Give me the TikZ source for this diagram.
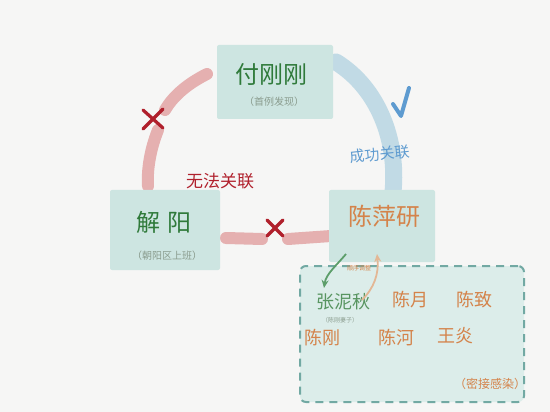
\documentclass[tikz,border=0pt]{standalone}
\usepackage{fontspec}
\setmainfont{Noto Sans CJK SC}
\usetikzlibrary{arrows.meta,calc}
\definecolor{bg}{HTML}{F6F6F5}
\definecolor{boxfill}{HTML}{CDE5E1}
\definecolor{groupfill}{HTML}{DCEDEA}
\definecolor{dashc}{HTML}{72A9A3}
\definecolor{namegreen}{HTML}{2F7A3A}
\definecolor{subgray}{HTML}{8A9C8E}
\definecolor{nameorange}{HTML}{D4834A}
\definecolor{pinkstroke}{HTML}{E5B0B0}
\definecolor{bluestroke}{HTML}{BCD8E4}
\definecolor{xred}{HTML}{B0202C}
\definecolor{checkblue}{HTML}{5E9BD0}
\definecolor{arrgreen}{HTML}{5C9E6A}
\definecolor{arrorange}{HTML}{E3B795}
\tikzset{
  person/.style={fill=boxfill, draw=none, rounded corners=2pt, inner sep=0pt},
  bigname/.style={font=\fontsize{24}{28}\selectfont},
  subtxt/.style={font=\fontsize{10}{12}\selectfont, text=subgray},
  member/.style={font=\fontsize{18}{21}\selectfont, text=nameorange},
  pinkline/.style={draw=pinkstroke, line width=12pt, line cap=round},
  blueline/.style={draw=bluestroke, line width=17pt, line cap=round, opacity=0.9},
  xmark/.style={draw=xred, line width=3.2pt, line cap=round},
}
\begin{document}
\begin{tikzpicture}[x=1pt,y=-1pt]
\fill[bg] (0,0) rectangle (550,412);
\useasboundingbox (0,0) rectangle (550,412);

% connectors (strokes)
\coordinate (pA1) at (207,74);
\coordinate (pA2) at (165,110);
\coordinate (pB1) at (158,130);
\coordinate (pB2) at (148,186);
\draw[pinkline] (pA1) .. controls (185,85) and (172,98) .. (pA2);
\draw[pinkline] (pB1) .. controls (150,150) and (147,170) .. (pB2);
\coordinate (hA1) at (226,238);
\coordinate (hA2) at (262,239);
\coordinate (hB1) at (288,239);
\coordinate (hB2) at (331,236);
\draw[pinkline] (hA1) -- (hA2);
\draw[pinkline] (hB1) -- (hB2);
\coordinate (bA) at (336,62);
\coordinate (bB) at (393,192);
\draw[blueline] (bA) .. controls (378,88) and (398,140) .. (bB);

% group box
\node[fill=groupfill, draw=dashc, line width=2pt, dash pattern=on 8pt off 6pt,
      rounded corners=6pt, minimum width=224pt, minimum height=136pt, inner sep=0pt]
      (grp) at (412,334) {};

% person boxes
\node[person, minimum width=116pt, minimum height=74pt] (fu) at (275,82) {};
\node[person, minimum width=110pt, minimum height=80pt] (xie) at (165,230) {};
\node[person, minimum width=106pt, minimum height=72pt] (chen) at (382,226) {};

\node[bigname, text=namegreen] (fuName) at (271,74) {付刚刚};
\node[subtxt] (fuSub) at (274,102) {（首例发现）};
\node[bigname, text=namegreen] (xieName) at (164,222) {解\hspace{8pt}阳};
\node[subtxt] (xieSub) at (167,256) {（朝阳区上班）};
\node[bigname, text=nameorange] (chenName) at (384,216) {陈萍研};

% members
\node[font=\fontsize{18}{21}\selectfont, text=namegreen!80] (m1) at (343,302) {张泥秋};
\node[font=\fontsize{6}{7}\selectfont, text=subgray] (m1sub) at (340,320) {（陈刚妻子）};
\node[member] (m2) at (410,300) {陈月};
\node[member] (m3) at (474,300) {陈致};
\node[member] (m4) at (322,338) {陈刚};
\node[member] (m5) at (396,338) {陈河};
\node[member] (m6) at (455,336) {王炎};
\node[font=\fontsize{12}{14}\selectfont, text=nameorange] (note) at (490,384) {（密接感染）};

% curved arrows
\coordinate (ga) at (346,254);
\coordinate (gb) at (324,288);
\draw[arrgreen, line width=1.8pt, -{Stealth[length=8pt,width=7pt]}]
  (ga) .. controls (336,266) and (326,274) .. (gb);
\coordinate (oa) at (362,300);
\coordinate (ob) at (377,254);
\draw[arrorange, line width=1.8pt, -{Stealth[length=8pt,width=7pt]}]
  (oa) .. controls (374,288) and (379,274) .. (ob);
\node[font=\fontsize{6}{7}\selectfont, text=nameorange] (order) at (359,268) {顺序调整};

% labels
\node[font=\fontsize{17}{20}\selectfont, text=xred] (noLink) at (220,181) {无法关联};
\node[font=\fontsize{15}{18}\selectfont, text=checkblue, rotate=6] (okLink) at (380,154) {成功关联};

% X marks
\coordinate (x1) at (153,119);
\draw[xmark] ($(x1)+(-10,-9)$) -- ($(x1)+(10,9)$);
\draw[xmark] ($(x1)+(10,-10)$) -- ($(x1)+(-10,10)$);
\coordinate (x2) at (275,228);
\draw[xmark] ($(x2)+(-8,-8)$) -- ($(x2)+(8,8)$);
\draw[xmark] ($(x2)+(8,-8)$) -- ($(x2)+(-8,8)$);

% check mark
\coordinate (ck) at (401,116);
\draw[checkblue, line width=4pt, line cap=round, line join=round]
  ($(ck)+(-8,-12)$) -- (ck) -- ($(ck)+(8,-28)$);
\end{tikzpicture}
\end{document}
